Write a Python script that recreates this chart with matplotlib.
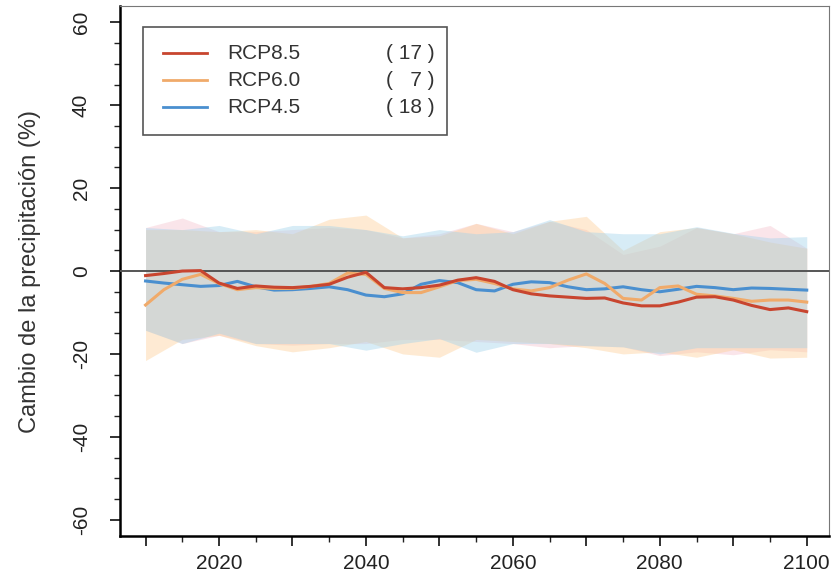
import numpy as np
import matplotlib
matplotlib.use("Agg")
import matplotlib.pyplot as plt
from matplotlib.ticker import MultipleLocator, FuncFormatter
from matplotlib.patches import Rectangle

plt.rcParams['font.family'] = ['Liberation Sans', 'DejaVu Sans']
plt.rcParams['axes.unicode_minus'] = False

# years for the ensemble means (every 2.5 years)
years = np.arange(2010, 2100.1, 2.5)

rcp85 = [-1.1, -0.6, 0.0, 0.1, -2.9, -4.2, -3.6, -3.9, -4.0, -3.7, -3.2, -1.5, -0.3,
         -4.0, -4.3, -4.0, -3.4, -2.2, -1.6, -2.5, -4.5, -5.5, -6.0, -6.3, -6.6,
         -6.5, -7.7, -8.4, -8.4, -7.5, -6.3, -6.2, -7.0, -8.3, -9.3, -8.9, -9.8]
rcp60 = [-8.2, -4.5, -2.0, -0.8, -3.0, -4.5, -4.0, -4.2, -4.2, -3.7, -3.0, -0.5, -0.8,
         -4.2, -5.2, -5.2, -3.8, -2.3, -2.0, -3.0, -4.3, -4.8, -4.0, -2.2, -0.7,
         -3.0, -6.6, -7.0, -4.0, -3.6, -5.6, -6.0, -6.6, -7.3, -7.0, -7.0, -7.5]
rcp45 = [-2.4, -2.9, -3.3, -3.7, -3.5, -2.5, -3.8, -4.6, -4.5, -4.2, -3.8, -4.5, -5.8,
         -6.2, -5.5, -3.2, -2.3, -2.8, -4.5, -4.8, -3.2, -2.6, -2.8, -3.8, -4.5,
         -4.3, -3.8, -4.5, -5.0, -4.4, -3.7, -4.0, -4.5, -4.1, -4.2, -4.4, -4.6]

# spread of the ensembles (every 5 years)
years_band = np.arange(2010, 2100.1, 5)

rcp85_hi = [10.5, 12.8, 9.5, 9.5, 10.0, 10.5, 10.0, 8.0, 9.0, 11.5, 9.5, 12.0, 10.0,
            4.0, 6.0, 10.5, 9.0, 11.0, 5.5]
rcp85_lo = [-14.3, -17.5, -15.5, -17.5, -17.9, -17.5, -17.5, -16.5, -16.5, -17.0,
            -17.5, -18.5, -18.0, -18.3, -20.4, -19.5, -20.2, -19.0, -19.5]
rcp60_hi = [10.0, 10.0, 9.5, 10.0, 9.0, 12.5, 13.5, 8.0, 8.5, 11.5, 9.0, 12.0, 13.2,
            5.0, 9.5, 10.5, 9.0, 7.0, 5.5]
rcp60_lo = [-21.6, -16.5, -15.5, -18.0, -19.5, -18.5, -17.0, -20.0, -20.8, -16.5,
            -17.0, -17.5, -18.5, -20.0, -19.5, -20.8, -19.0, -21.0, -20.8]
rcp45_hi = [10.5, 10.0, 11.0, 9.0, 11.0, 11.0, 10.0, 8.5, 10.0, 9.0, 9.5, 12.4, 9.5,
            9.0, 9.0, 10.7, 9.1, 8.0, 8.3]
rcp45_lo = [-14.3, -17.5, -15.0, -17.5, -17.5, -17.5, -19.1, -17.5, -16.3, -19.6,
            -17.5, -17.5, -18.0, -18.3, -20.0, -18.5, -18.5, -18.5, -18.5]

names = ['RCP8.5', 'RCP6.0', 'RCP4.5']
counts = ['( 17 )', '(   7 )', '( 18 )']

line_cols = ['#c8452f', '#f0aa6a', '#4a8fcf']
band_cols = ['#f5c3cd', '#fdcf96', '#a0d2eb']

fig = plt.figure(figsize=(8.38, 5.81), dpi=100)
ax = fig.add_axes([0.143, 0.077, 0.846, 0.913])

bands = [(rcp85_lo, rcp85_hi), (rcp60_lo, rcp60_hi), (rcp45_lo, rcp45_hi)]
for (lo, hi), c in zip(bands, band_cols):
    ax.fill_between(years_band, lo, hi, color=c, alpha=0.42, lw=0)

ax.axhline(0, color='#555555', lw=1.4, zorder=3)

for s, c in zip([rcp45, rcp60, rcp85], line_cols[::-1]):
    ax.plot(years, s, color=c, lw=2.2, zorder=4)

ax.set_xlim(2006.5, 2103)
ax.set_ylim(-64, 64)

ax.xaxis.set_major_locator(MultipleLocator(10))
ax.xaxis.set_minor_locator(MultipleLocator(5))
ax.xaxis.set_major_formatter(FuncFormatter(lambda v, p: f"{int(v)}" if int(v) % 20 == 0 else ""))
ax.yaxis.set_major_locator(MultipleLocator(20))
ax.yaxis.set_minor_locator(MultipleLocator(5))

ax.tick_params(axis='both', which='major', direction='out', length=7, width=1.3,
               labelsize=15, colors='#222222')
ax.tick_params(axis='both', which='minor', direction='out', length=4, width=1.0,
               colors='#222222')
ax.tick_params(axis='y', which='major', pad=14)
ax.tick_params(axis='x', which='major', pad=6)
for lab in ax.get_yticklabels():
    lab.set_rotation(90)
    lab.set_va('center')

ax.spines['left'].set_linewidth(1.8)
ax.spines['bottom'].set_linewidth(1.8)
ax.spines['top'].set_color('#777777')
ax.spines['right'].set_color('#777777')

ax.set_ylabel('Cambio de la precipitación (%)', fontsize=17, color='#333333', labelpad=22)

# legend box
ax.add_patch(Rectangle((0.0324, 0.757), 0.429, 0.203, transform=ax.transAxes,
                       fill=False, ec='#555555', lw=1.2, zorder=5))
rows = [0.911, 0.860, 0.809]
for y, n, k, c in zip(rows, names, counts, line_cols):
    ax.plot([0.0606, 0.1227], [y, y], color=c, lw=2.0, transform=ax.transAxes, zorder=6)
    ax.text(0.151, y, n, transform=ax.transAxes, fontsize=15, va='center', color='#333333')
    ax.text(0.375, y, k, transform=ax.transAxes, fontsize=15, va='center', color='#333333')

fig.savefig('out.png', dpi=100)
